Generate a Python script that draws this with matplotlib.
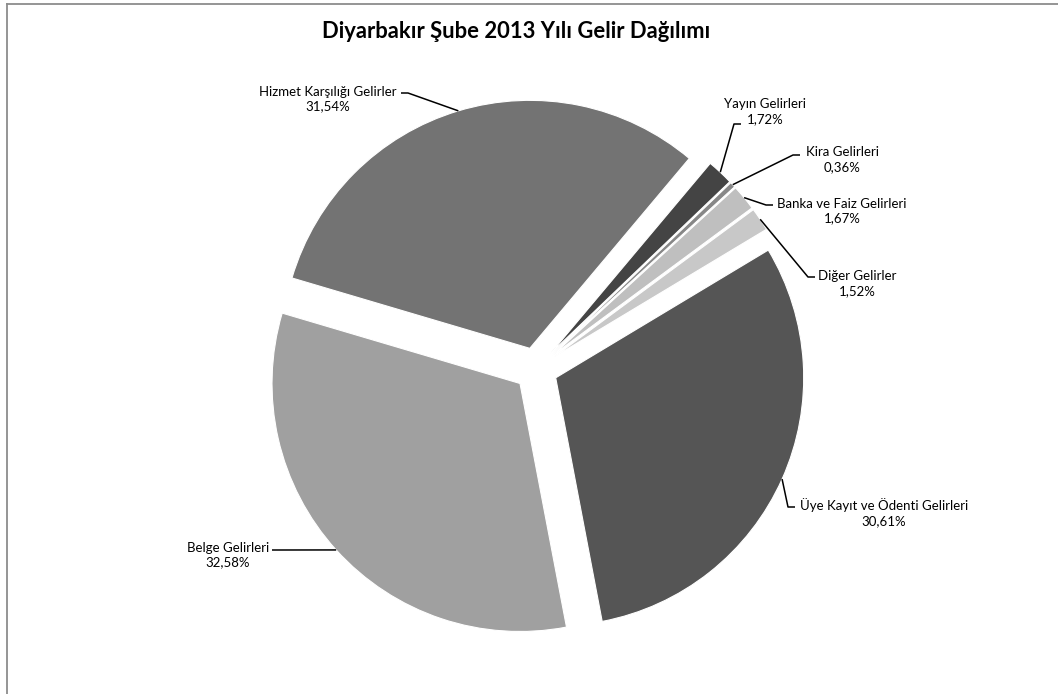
import numpy as np
import matplotlib
matplotlib.use("Agg")
import matplotlib.pyplot as plt
from matplotlib.lines import Line2D

plt.rcParams['font.family'] = ['Lato', 'DejaVu Sans']

# ---- data ----
categories = ["Üye Kayıt ve Ödenti Gelirleri", "Belge Gelirleri",
              "Hizmet Karşılığı Gelirler", "Yayın Gelirleri", "Kira Gelirleri",
              "Banka ve Faiz Gelirleri", "Diğer Gelirler"]
shares = [30.61, 32.58, 31.54, 1.72, 0.36, 1.67, 1.52]
pct_labels = ["30,61%", "32,58%", "31,54%", "1,72%", "0,36%", "1,67%", "1,52%"]
colors = ["#555555", "#a0a0a0", "#737373", "#444444", "#878787", "#bfbfbf", "#c8c8c8"]
title = "Diyarbakır Şube 2013 Yılı Gelir Dağılımı"

# ---- layout (pixels) ----
W, H = 1058, 694
CX, CY, R = 536, 369, 248
EXPLODE = 0.087
START = 31.0  # angle where first slice starts (clockwise)

# label block centers and leader attach points (pixels)
label_pos = [
    ((884, 513), (795, 507), -1),
    ((228, 555), (272, 550), +1),
    ((328, 99), (401, 93), +1),
    ((765, 112), (741, 124), -1),
    ((842, 160), (800, 155), -1),
    ((842, 211), (773, 205), -1),
    ((857, 284), (815, 277), -1),
]

fig = plt.figure(figsize=(W / 100, H / 100), dpi=100)
ax = fig.add_axes([0, 0, 1, 1])

def px(x, y):
    return (x - CX) / R, (CY - y) / R

wedges, _ = ax.pie(shares, colors=colors, startangle=START, counterclock=False,
                   explode=[EXPLODE] * len(shares), radius=1.0, center=(0, 0),
                   wedgeprops=dict(edgecolor='white', linewidth=0.8),
                   frame=True)
ax.set_xlim(-CX / R, (W - CX) / R)
ax.set_ylim(-(H - CY) / R, CY / R)
ax.set_aspect('equal')
ax.axis('off')

for w, cat, pl, (tc, att, side) in zip(wedges, categories, pct_labels, label_pos):
    mid = np.deg2rad((w.theta1 + w.theta2) / 2)
    ex, ey = (1 + EXPLODE) * np.cos(mid), (1 + EXPLODE) * np.sin(mid)
    axp = px(*att)
    elb = px(att[0] + (7 if side > 0 else -7), att[1])
    ax.plot([ex, elb[0], axp[0]], [ey, elb[1], axp[1]], color='black', lw=1.1,
            solid_capstyle='butt')
    tx, ty = px(*tc)
    ax.text(tx, ty, cat + "\n" + pl, ha='center', va='center', fontsize=9.5,
            color='black', linespacing=1.3)

fig.text(516 / W, 1 - 32 / H, title, ha='center', va='center', fontsize=15.8,
         fontweight='bold', color='black')

# chart border (top and left visible)
fig.add_artist(Line2D([6.5 / W, 1.0], [1 - 3.5 / H, 1 - 3.5 / H], color='#8c8c8c', lw=1.3,
                      transform=fig.transFigure))
fig.add_artist(Line2D([6.5 / W, 6.5 / W], [0, 1 - 3.5 / H], color='#8c8c8c', lw=1.3,
                      transform=fig.transFigure))

fig.savefig("out.png", dpi=100, facecolor='white')
